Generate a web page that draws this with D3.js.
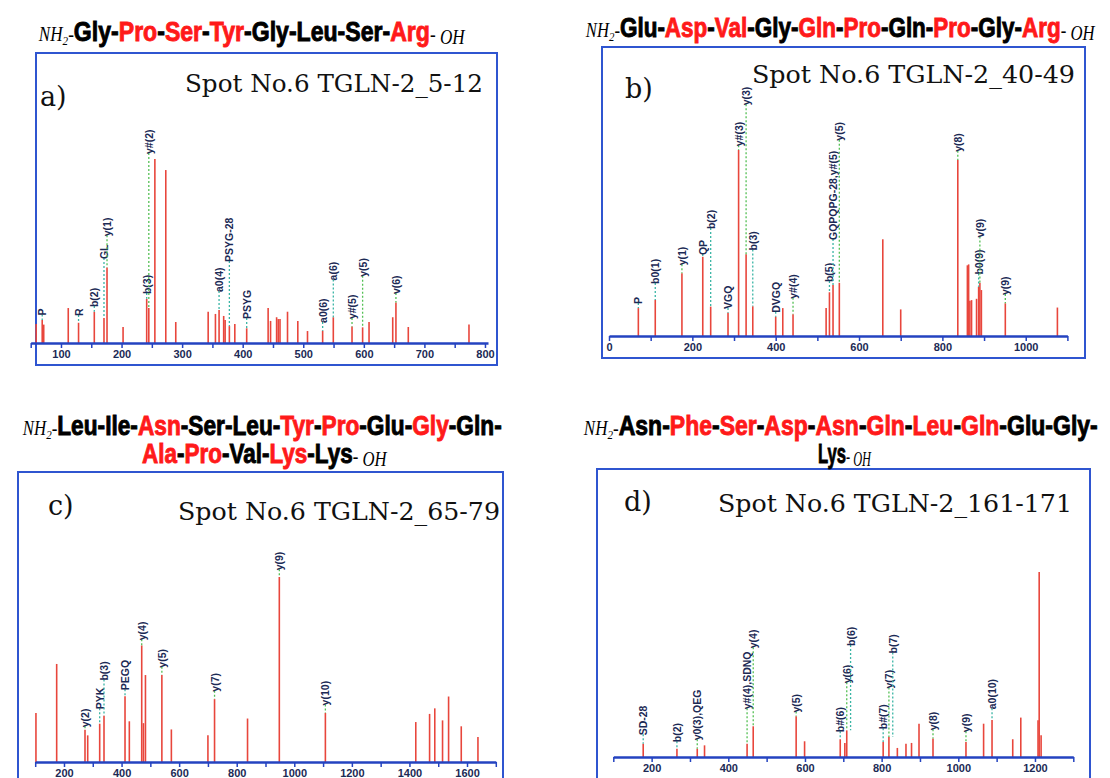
<!DOCTYPE html>
<html>
<head>
<meta charset="utf-8">
<script src="https://cdn.jsdelivr.net/npm/d3@7"></script>
<style>
  body { margin: 0; background: #fff; }
  svg { display: block; }
</style>
</head>
<body>
<script>
// ---- peptide sequences (index of red residues in hi*) ----
const seqA = ["Gly", "Pro", "Ser", "Tyr", "Gly", "Leu", "Ser", "Arg"];
const hiA = [1, 2, 3, 7];
const seqB = ["Glu", "Asp", "Val", "Gly", "Gln", "Pro", "Gln", "Pro", "Gly", "Arg"];
const hiB = [1, 2, 4, 5, 7, 9];
const seqC = ["Leu", "Ile", "Asn", "Ser", "Leu", "Tyr", "Pro", "Glu", "Gly", "Gln", "Ala", "Pro", "Val", "Lys", "Lys"];
const hiC = [2, 5, 6, 8, 10, 11, 13];
const seqD = ["Asn", "Phe", "Ser", "Asp", "Asn", "Gln", "Leu", "Gln", "Glu", "Gly", "Lys"];
const hiD = [1, 2, 3, 4, 5, 6, 7];

const spotNames = ["Spot No.6 TGLN-2_5-12", "Spot No.6 TGLN-2_40-49", "Spot No.6 TGLN-2_65-79", "Spot No.6 TGLN-2_161-171"];
const panelTags = ["a)", "b)", "c)", "d)"];

// ---- spectra: m/z and relative intensity ----
const mzA = [59, 69, 71.5, 112, 129, 155, 171, 176, 202.5, 241.5, 245, 255, 273, 289.5, 343, 355, 361, 368.6, 371, 378,
  387, 406.6, 442, 446, 456, 458.7, 461.6, 474, 491, 507, 532, 549.6, 580.5, 598, 608.6, 647.7, 653, 673.4, 773.6];
const intA = [10.3, 12.5, 10, 19, 11, 17, 13.6, 41, 8.7, 24, 19, 100, 94, 11.4, 17, 15.8, 18, 14.7, 12.5, 9.2,
  10.3, 8, 19, 12, 14, 13, 13, 17, 12, 6.5, 6.7, 14, 9, 8.5, 11.4, 14, 22, 8.7, 10];
// annotations: [m/z, label level (intensity units), text]
const labA = [[69, 15, "P"], [129, 14.7, "R"], [155, 19.5, "b(2)"], [171, 45.6, "GL"], [176, 58, "y(1)"],
  [241.5, 26.6, "b(3)"], [245, 102.7, "y#(2)"], [361, 27.7, "a0(4)"], [378, 44, "PSYG-28"], [406.6, 13, "PSYG"],
  [532, 10.9, "a0(6)"], [549.6, 34, "a(6)"], [580.5, 13, "y#(5)"], [598, 36, "y(5)"], [653, 26.6, "v(6)"]];
const ticksA = [50, 100, 150, 200, 250, 300, 350, 400, 450, 500, 550, 600, 650, 700, 750, 800];

const mzB = [70.4, 111, 175, 225, 244, 285.6, 311, 329, 345, 400, 417, 441.6, 521, 529, 537.6, 552.7, 657, 700, 837, 860,
  863, 866, 870, 882, 887, 890, 893.6, 951, 1076];
const intB = [15, 19.4, 33.7, 42.6, 15.8, 12.5, 100, 44, 16, 10.4, 15, 11.7, 15, 23.5, 27.4, 28.6, 52, 14.3, 94.6, 38,
  38.5, 19, 19.3, 20, 26.5, 28.6, 24.7, 17.6, 15.3];
const labB = [[70.4, 17.2, "P"], [111, 28, "b0(1)"], [175, 38, "y(1)"], [225, 43.5, "QP"], [244, 57.5, "b(2)"],
  [285.6, 14.5, "VGQ"], [311, 102, "y#(3)"], [329, 124, "y(3)"], [345, 46, "b(3)"], [400, 12.5, "DVGQ"],
  [441.6, 20, "y#(4)"], [529, 29, "b(5)"], [537.6, 51.6, "GQPQPG-28,y#(5)"], [552.7, 105, "y(5)"], [837, 99, "y(8)"],
  [887, 33, "b0(9)"], [890, 53, "v(9)"], [951, 22, "y(9)"]];
const ticksB = [0, 100, 200, 300, 400, 500, 600, 700, 800, 900, 1000, 1100];

const mzC = [102.6, 174.6, 273, 282.4, 324, 339, 412, 427, 470, 476, 483, 540, 573, 700, 723, 837.6, 948, 1108, 1422, 1470,
  1488, 1515, 1536, 1580, 1638];
const intC = [26.5, 53, 17.5, 14.4, 20.7, 25, 35.5, 22, 63, 21, 47, 47, 17.6, 14.4, 34, 23.5, 100, 26.5, 21.6, 26,
  29, 22.5, 35.4, 19.3, 13.5];
const labC = [[273, 18.8, "y(2)"], [324, 28.5, "PYK"], [339, 44, "b(3)"], [412, 38.8, "PEGQ"], [470, 65.8, "y(4)"],
  [540, 51, "y(5)"], [723, 38, "y(7)"], [948, 103.6, "y(9)"], [1108, 30.6, "y(10)"]];
const ticksC = [100, 200, 300, 400, 500, 600, 700, 800, 900, 1000, 1100, 1200, 1300, 1400, 1500, 1600, 1700];

const mzD = [178, 266, 319, 338, 449, 465, 577, 599, 692, 704, 709, 804, 819, 841, 863.5, 878, 897.5, 934, 1020, 1066,
  1088, 1142, 1163, 1208, 1211, 1216];
const intD = [7.2, 4.5, 4.5, 6.3, 7.2, 16.6, 22, 8.5, 9.6, 7.6, 14.4, 8.1, 10.8, 4.9, 7.2, 7.6, 18, 10, 8.1, 18,
  20, 9.6, 21.3, 19.8, 100, 11.7];
const labD = [[178, 11.7, "SD-28"], [266, 8, "b(2)"], [319, 9, "y0(3),QEG"], [449, 25.8, "y#(4),SDNQ"], [465, 58.8, "y(4)"],
  [577, 24, "y(5)"], [692, 13.4, "b#(6)"], [709, 39.8, "y(6)"], [719, 60, "b(6)"], [804, 15, "b#(7)"], [819, 37, "y(7)"],
  [829, 56, "b(7)"], [934, 14.4, "y(8)"], [1020, 13.4, "y(9)"], [1088, 25.8, "a0(10)"]];
const ticksD = [100, 200, 300, 400, 500, 600, 700, 800, 900, 1000, 1100, 1200, 1300];

const width = 1110, height = 778;
const RED = "#ff1a1a", NAVY = "#1c2a55", BLUE = "#2443c0";

const svg = d3.select("body").append("svg")
    .attr("width", width)
    .attr("height", height)
    .style("font-family", "'Liberation Sans', Arial, sans-serif");

// layout of the four panels
const panels = [
  {mz: mzA, int: intA, lab: labA, ticks: ticksA, step: 100, dom: [50, 805], xr: [30.7, 488], base: 343, h: 184,
    frame: [36, 53, 461, 312], tag: [40, 106], spot: [185, 92, 298]},
  {mz: mzB, int: intB, lab: labB, ticks: ticksB, step: 200, dom: [0, 1100], xr: [609, 1067.4], base: 336, h: 186,
    frame: [602, 47, 483, 311], tag: [625, 98], spot: [752, 83, 323]},
  {mz: mzC, int: intC, lab: labC, ticks: ticksC, step: 200, dom: [100, 1700], xr: [35.2, 495.8], base: 762, h: 185,
    frame: [18, 472, 485, 330], tag: [48, 515], spot: [178, 520, 322]},
  {mz: mzD, int: intD, lab: labD, ticks: ticksD, step: 200, dom: [100, 1300], xr: [613.3, 1073.3], base: 757, h: 185,
    frame: [597, 469, 493, 330], tag: [624, 511], spot: [718, 512, 354]}
];

panels.forEach((p, i) => {

    let g = svg.append("g");

    g.append("rect")
        .attr("x", p.frame[0]).attr("y", p.frame[1])
        .attr("width", p.frame[2]).attr("height", p.frame[3])
        .attr("fill", "none")
        .attr("stroke", "#2f55d0")
        .attr("stroke-width", 2);

    let x = d3.scaleLinear().domain(p.dom).range(p.xr);
    let y = d3.scaleLinear().domain([0, 100]).range([p.base, p.base - p.h]);

    let peaks = p.mz.map((m, k) => ({mz: m, v: p.int[k]}));

    g.selectAll("line.peak")
        .data(peaks)
        .join("line")
        .attr("class", "peak")
        .attr("x1", d => x(d.mz)).attr("x2", d => x(d.mz))
        .attr("y1", y(0)).attr("y2", d => y(d.v))
        .attr("stroke", "#e8463c")
        .attr("stroke-width", 1.6);

    // annotations: dotted leader + rotated label
    let nearest = (m) => peaks.reduce((a, b) => Math.abs(b.mz - m) < Math.abs(a.mz - m) ? b : a);

    let ann = g.selectAll("g.ann")
        .data(p.lab)
        .join("g")
        .attr("class", "ann");

    ann.append("line")
        .attr("x1", d => x(d[0])).attr("x2", d => x(d[0]))
        .attr("y1", d => y(d[1]) - 1)
        .attr("y2", d => y(nearest(d[0]).v))
        .attr("stroke", d => d[2][0] === "y" || d[2][0] === "v" ? "#55c055" : "#3ab5a5")
        .attr("stroke-width", 1.3)
        .attr("stroke-dasharray", "2,2");

    ann.append("text")
        .attr("transform", d => `translate(${x(d[0])},${y(d[1])}) rotate(-90)`)
        .attr("dominant-baseline", "central")
        .attr("font-size", 10.5)
        .attr("font-weight", "bold")
        .attr("fill", NAVY)
        .text(d => d[2]);

    // x axis
    let axis = d3.axisBottom(x)
        .tickValues(p.ticks)
        .tickSize(5)
        .tickSizeOuter(0)
        .tickFormat(d => d % p.step === 0 ? d : "");

    let ax = g.append("g")
        .attr("transform", `translate(0,${p.base})`)
        .call(axis);

    ax.select(".domain").attr("stroke", BLUE).attr("stroke-width", 2.5);
    ax.selectAll(".tick line").attr("stroke", BLUE).attr("stroke-width", 1.5);
    ax.selectAll(".tick text")
        .attr("fill", NAVY)
        .attr("font-size", 11)
        .attr("font-weight", "bold")
        .attr("font-family", "'Liberation Sans Narrow', 'Liberation Sans', sans-serif")
        .attr("dy", "0.6em");

    // panel tag and spot name
    g.append("text")
        .attr("x", p.tag[0]).attr("y", p.tag[1])
        .attr("font-family", "'DejaVu Serif', serif")
        .attr("font-size", 27)
        .attr("fill", "#111")
        .text(panelTags[i]);

    g.append("text")
        .attr("x", p.spot[0]).attr("y", p.spot[1])
        .attr("font-family", "'DejaVu Serif', serif")
        .attr("font-size", 24)
        .attr("fill", "#111")
        .attr("textLength", p.spot[2])
        .attr("lengthAdjust", "spacingAndGlyphs")
        .text(spotNames[i]);
});

// ---- sequence titles ----
function seqLine(parts, x0, x1, baseline) {
    let t = svg.append("text").attr("x", 0).attr("y", baseline);
    parts.forEach(pt => {
        let s = t.append("tspan").text(pt.t);
        if (pt.kind === "res") {
            let c = pt.red ? RED : "#000";
            s.attr("font-family", "'Liberation Sans Narrow', 'Liberation Sans', Arial, sans-serif")
             .attr("font-weight", "bold").attr("font-size", 27)
             .attr("fill", c).attr("stroke", c).attr("stroke-width", 0.9);
        } else if (pt.kind === "sub") {
            s.attr("font-family", "'Liberation Serif', serif").attr("font-style", "italic")
             .attr("font-size", 13).attr("dy", 4);
        } else {
            s.attr("font-family", "'Liberation Serif', serif").attr("font-style", "italic")
             .attr("font-size", 20).attr("fill", "#000");
            if (pt.dy) s.attr("dy", pt.dy);
        }
    });
    let bb = t.node().getBBox();
    let sx = (x1 - x0) / bb.width;
    t.attr("transform", `translate(${x0 - bb.x * sx},0) scale(${sx},1)`);
}

function residues(seq, hi, from, to, lastDash) {
    let out = [];
    for (let k = from; k < to; k++) {
        out.push({t: seq[k], kind: "res", red: hi.includes(k)});
        if (k < to - 1 || lastDash) out.push({t: "-", kind: "res", red: false});
    }
    return out;
}

const head = [{t: "NH", kind: "it"}, {t: "2", kind: "sub"}, {t: "-", kind: "it", dy: -4}];
const tail = [{t: "- ", kind: "it"}, {t: "OH", kind: "it", dy: 3}];

seqLine(head.concat(residues(seqA, hiA, 0, seqA.length, false), tail), 38, 466, 41);
seqLine(head.concat(residues(seqB, hiB, 0, seqB.length, false), tail), 585, 1096, 37);
seqLine(head.concat(residues(seqC, hiC, 0, 10, true)), 22, 502, 435);
seqLine(residues(seqC, hiC, 10, seqC.length, false).concat(tail), 142, 388, 463);
seqLine(head.concat(residues(seqD, hiD, 0, 10, true)), 583, 1098, 435);
seqLine(residues(seqD, hiD, 10, seqD.length, false).concat(tail), 818, 872, 463);
</script>
</body>
</html>
